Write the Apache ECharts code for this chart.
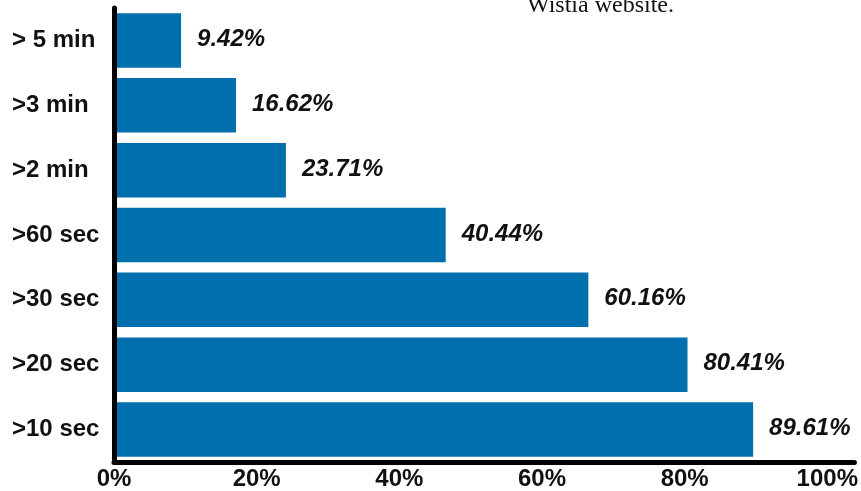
<!DOCTYPE html>
<html>
<head>
<meta charset="utf-8">
<script src="https://cdn.jsdelivr.net/npm/echarts@6/dist/echarts.min.js"></script>
<style>
html,body{margin:0;padding:0;background:#fff;}
#chart{width:861px;height:491px;}
</style>
</head>
<body>
<div id="chart"></div>
<script>
// Categories (top to bottom)
const categories = ['> 5 min', '>3 min', '>2 min', '>60 sec', '>30 sec', '>20 sec', '>10 sec'];
// Bar lengths as drawn in the picture (percent)
const barValues = [9.4, 17.1, 24.1, 46.5, 66.5, 80.4, 89.6];
// Value labels printed next to the bars
const valueLabels = ['9.42%', '16.62%', '23.71%', '40.44%', '60.16%', '80.41%', '89.61%'];
// X tick values
const xTicks = [0, 20, 40, 60, 80, 100];
const noteText = 'Wistia website.';

const chart = echarts.init(document.getElementById('chart'), null, {renderer: 'canvas'});
chart.setOption({
  animation: false,
  backgroundColor: '#ffffff',
  graphic: [{
    type: 'text',
    left: 527,
    top: -6,
    style: {
      text: noteText,
      font: '24px "Liberation Serif", "DejaVu Serif", serif',
      fill: '#111'
    }
  }],
  grid: {left: 114, right: 6, top: 8, bottom: 27, containLabel: false},
  xAxis: {
    type: 'value',
    min: 0,
    max: 103.8,
    interval: 20,
    splitLine: {show: false},
    axisTick: {show: false},
    axisLine: {show: true, lineStyle: {color: '#000', width: 5}},
    axisLabel: {
      margin: 5,
      color: '#111',
      fontFamily: 'Liberation Sans, Arial, sans-serif',
      fontWeight: 'bold',
      fontSize: 24,
      showMaxLabel: false,
      formatter: function (v) { return xTicks.indexOf(v) >= 0 ? v + '%' : ''; }
    }
  },
  yAxis: {
    type: 'category',
    data: categories,
    inverse: true,
    z: 5,
    axisTick: {show: false},
    axisLine: {show: true, lineStyle: {color: '#000', width: 5}},
    axisLabel: {
      align: 'left',
      margin: 102,
      color: '#111',
      fontFamily: 'Liberation Sans, Arial, sans-serif',
      fontWeight: 'bold',
      fontSize: 24
    }
  },
  series: [{
    type: 'bar',
    data: barValues,
    barCategoryGap: '16%',
    itemStyle: {color: '#006FAD'},
    label: {
      show: true,
      position: 'right',
      distance: 16,
      color: '#111',
      fontFamily: 'Liberation Sans, Arial, sans-serif',
      fontWeight: 'bold',
      fontStyle: 'italic',
      fontSize: 24,
      offset: [0, -1],
      formatter: function (p) { return valueLabels[p.dataIndex]; }
    }
  }]
});
</script>
</body>
</html>
